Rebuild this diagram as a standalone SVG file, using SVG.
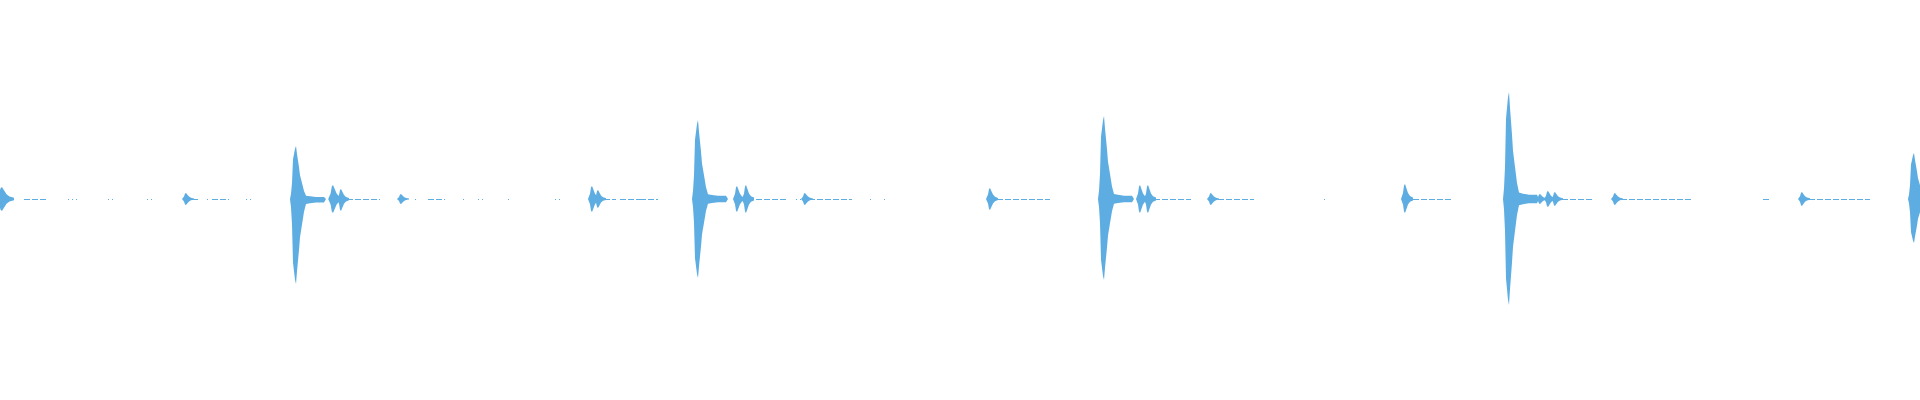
<svg xmlns="http://www.w3.org/2000/svg" width="1920" height="400" viewBox="0 0 1920 400">
<style>.w{fill:#5dade2}.l{stroke:#5dade2;stroke-width:1.2}</style>
<defs>
<path id="m" d="M-6,0 L-5,-0.1 L-4,-0.3 L-3,-0.75 L-1,-0.95 L0,-1 L1,-0.85 L3,-0.6 L4,-0.45 L6,-0.3 L8,-0.15 L10,-0.06 L14,-0.05 L20,-0.04 L28,-0.04 L30,0 Z"/>
<path id="s" d="M-4,0 L-2,-0.4 L-1,-0.9 L0,-1 L1,-0.8 L3,-0.4 L5,-0.2 L8,-0.1 L8,0 Z"/>
</defs>
<g class="w">
<use href="#m" transform="translate(296,199) scale(1,-85)"/><use href="#m" transform="translate(296,199) scale(1,53)"/>
<use href="#m" transform="translate(698,199) scale(1,-79)"/><use href="#m" transform="translate(698,199) scale(1,79)"/>
<use href="#m" transform="translate(1104,199) scale(1,-81)"/><use href="#m" transform="translate(1104,199) scale(1,83)"/>
<use href="#m" transform="translate(1509,199) scale(1,-106)"/><use href="#m" transform="translate(1509,199) scale(1,107)"/>
<use href="#m" transform="translate(1914,199) scale(1,-44)"/><use href="#m" transform="translate(1914,199) scale(1,46)"/>
<use href="#s" transform="translate(2,199) scale(1.5,-12)"/><use href="#s" transform="translate(2,199) scale(1.5,12)"/>
<use href="#s" transform="translate(186,199) scale(1,-6)"/><use href="#s" transform="translate(186,199) scale(1,6)"/>
<use href="#s" transform="translate(333,199) scale(1.2,-14)"/><use href="#s" transform="translate(333,199) scale(1.2,14)"/>
<use href="#s" transform="translate(341,199) scale(1,-12)"/><use href="#s" transform="translate(341,199) scale(1,10)"/>
<use href="#s" transform="translate(401,199) scale(1,-5)"/><use href="#s" transform="translate(401,199) scale(1,5)"/>
<use href="#s" transform="translate(592,199) scale(1,-13)"/><use href="#s" transform="translate(592,199) scale(1,13)"/>
<use href="#s" transform="translate(598,199) scale(1,-9)"/><use href="#s" transform="translate(598,199) scale(1,9)"/>
<use href="#s" transform="translate(737,199) scale(1,-13)"/><use href="#s" transform="translate(737,199) scale(1,13)"/>
<use href="#s" transform="translate(746,199) scale(1,-14)"/><use href="#s" transform="translate(746,199) scale(1,14)"/>
<use href="#s" transform="translate(805,199) scale(1,-6)"/><use href="#s" transform="translate(805,199) scale(1,6)"/>
<use href="#s" transform="translate(990,199) scale(1,-11)"/><use href="#s" transform="translate(990,199) scale(1,11)"/>
<use href="#s" transform="translate(1140,199) scale(1,-14)"/><use href="#s" transform="translate(1140,199) scale(1,14)"/>
<use href="#s" transform="translate(1148,199) scale(1,-14)"/><use href="#s" transform="translate(1148,199) scale(1,14)"/>
<use href="#s" transform="translate(1211,199) scale(1,-6)"/><use href="#s" transform="translate(1211,199) scale(1,6)"/>
<use href="#s" transform="translate(1405,199) scale(1,-14)"/><use href="#s" transform="translate(1405,199) scale(1,15)"/>
<use href="#s" transform="translate(1540,199) scale(1,-5)"/><use href="#s" transform="translate(1540,199) scale(1,5)"/>
<use href="#s" transform="translate(1548,199) scale(1,-8)"/><use href="#s" transform="translate(1548,199) scale(1,8)"/>
<use href="#s" transform="translate(1555,199) scale(1,-7)"/><use href="#s" transform="translate(1555,199) scale(1,7)"/>
<use href="#s" transform="translate(1615,199) scale(1,-6)"/><use href="#s" transform="translate(1615,199) scale(1,6)"/>
<use href="#s" transform="translate(1802,199) scale(1,-7)"/><use href="#s" transform="translate(1802,199) scale(1,7)"/>
</g>
<g class="l" stroke-dasharray="6 2">
<path d="M24,199.5H48M192,199.5H200M212,199.5H229M347,199.5H380M428,199.5H445M604,199.5H616M620,199.5H640M640,199.5H658M748,199.5H787M809,199.5H852M997,199.5H1050M1154,199.5H1191M1218,199.5H1254M1413,199.5H1453M1562,199.5H1592M1621,199.5H1691M1763,199.5H1770M1809,199.5H1870"/>
</g>
<g class="l" stroke-dasharray="1 3">
<path d="M68,199.5H79M108,199.5H113M147,199.5H154M207,199.5H209M246,199.5H252M415,199.5H418M463,199.5H467M478,199.5H483M508,199.5H510M555,199.5H562M796,199.5H801M870,199.5H872M884,199.5H888M1324,199.5H1326"/>
</g>
</svg>
